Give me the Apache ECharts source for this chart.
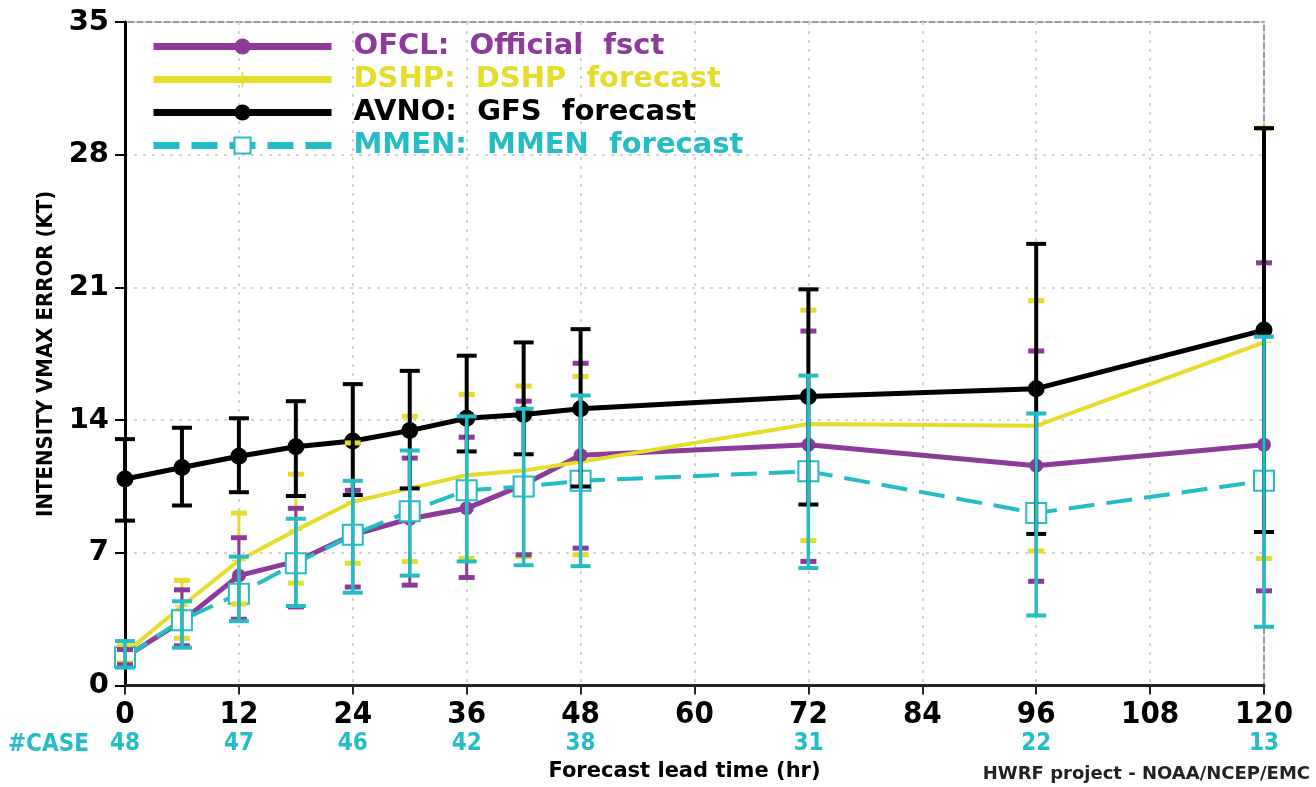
<!DOCTYPE html>
<html>
<head>
<meta charset="utf-8">
<script src="https://cdn.jsdelivr.net/npm/echarts@6/dist/echarts.min.js"></script>
<style>
  html, body { margin: 0; padding: 0; background: #ffffff; }
  #chart { width: 1316px; height: 787px; }
</style>
</head>
<body>
<div id="chart"></div>
<script>
// Forecast lead times (hr)
const hours = [0, 6, 12, 18, 24, 30, 36, 42, 48, 72, 96, 120];

// OFCL: official forecast, mean intensity error and range (kt)
const ofcl   = [1.5, 3.4, 5.8, 6.55, 7.95, 8.8, 9.35, 10.6, 12.15, 12.7, 11.6, 12.7];
const ofclLo = [1.1, 2.1, 3.5, 4.15, 5.2, 5.3, 5.7, 6.9, 7.25, 6.55, 5.5, 5.0];
const ofclHi = [1.9, 5.05, 7.8, 9.35, 10.3, 12.0, 13.1, 15.0, 17.0, 18.7, 17.65, 22.3];

// DSHP forecast
const dshp   = [1.7, 4.2, 6.6, 8.2, 9.7, 10.4, 11.1, 11.35, 11.8, 13.8, 13.7, 18.1];
const dshpLo = [1.2, 2.5, 4.3, 5.4, 6.45, 6.55, 6.7, 6.8, 6.9, 7.65, 7.1, 6.7];
const dshpHi = [2.1, 5.55, 9.1, 11.15, 12.8, 14.2, 15.35, 15.8, 16.3, 19.8, 20.3, 29.4];

// AVNO: GFS forecast
const avno   = [10.9, 11.5, 12.1, 12.6, 12.9, 13.45, 14.1, 14.3, 14.6, 15.25, 15.66, 18.75];
const avnoLo = [8.7, 9.5, 10.2, 10.0, 10.05, 10.4, 12.35, 12.2, 10.5, 9.55, 8.0, 8.1];
const avnoHi = [13.0, 13.6, 14.1, 15.0, 15.9, 16.6, 17.4, 18.1, 18.8, 20.9, 23.3, 29.4];

// MMEN forecast
const mmen   = [1.5, 3.45, 4.85, 6.45, 7.95, 9.2, 10.3, 10.5, 10.8, 11.3, 9.1, 10.8];
const mmenLo = [0.95, 2.0, 3.4, 4.2, 4.9, 5.8, 6.55, 6.35, 6.3, 6.2, 3.7, 3.1];
const mmenHi = [2.35, 4.45, 6.8, 8.8, 10.8, 12.4, 14.2, 14.6, 15.3, 16.35, 14.35, 18.4];

// Number of verifying cases per lead time
const caseHours  = [0, 12, 24, 36, 48, 72, 96, 120];
const caseCounts = [48, 47, 46, 42, 38, 31, 22, 13];

// Axis ticks
const xTicks = [0, 12, 24, 36, 48, 60, 72, 84, 96, 108, 120];
const yTicks = [0, 7, 14, 21, 28, 35];

const C_OFCL = '#8d3a9b';
const C_DSHP = '#e6dc2a';
const C_AVNO = '#000000';
const C_MMEN = '#24bcc5';

const NAME_OFCL = 'OFCL:  Official  fsct';
const NAME_DSHP = 'DSHP:  DSHP  forecast';
const NAME_AVNO = 'AVNO:  GFS  forecast';
const NAME_MMEN = 'MMEN:  MMEN  forecast';

const NARROW = "'Liberation Sans Narrow', 'DejaVu Sans Condensed', 'Arial Narrow', sans-serif";
const WIDE = "'DejaVu Sans', Verdana, sans-serif";

function pairs(vals) { return hours.map((h, i) => [h, vals[i]]); }
function ranges(lo, hi) { return hours.map((h, i) => [h, lo[i], hi[i]]); }

// Vertical range bar with caps at both ends
function rangeSeries(id, lo, hi, color, barW, capW, capH, z) {
  return {
    id: id,
    type: 'custom',
    z: z,
    silent: true,
    data: ranges(lo, hi),
    encode: { x: 0, y: [1, 2] },
    renderItem: function (params, api) {
      const x = api.value(0);
      const a = api.coord([x, api.value(1)]);
      const b = api.coord([x, api.value(2)]);
      return {
        type: 'group',
        children: [
          { type: 'line', shape: { x1: a[0], y1: a[1], x2: b[0], y2: b[1] },
            style: { stroke: color, lineWidth: barW } },
          { type: 'line', shape: { x1: a[0] - capW / 2, y1: a[1], x2: a[0] + capW / 2, y2: a[1] },
            style: { stroke: color, lineWidth: capH } },
          { type: 'line', shape: { x1: b[0] - capW / 2, y1: b[1], x2: b[0] + capW / 2, y2: b[1] },
            style: { stroke: color, lineWidth: capH } }
        ]
      };
    }
  };
}

const PLUS = 'path://M9,0 L11,0 L11,9 L20,9 L20,11 L11,11 L11,20 L9,20 L9,11 L0,11 L0,9 L9,9 Z';

const chart = echarts.init(document.getElementById('chart'), null, { renderer: 'canvas' });

chart.setOption({
  backgroundColor: '#ffffff',
  animation: false,
  grid: {
    left: 125, right: 52, top: 22, bottom: 99,
    show: true, borderColor: '#9a9a9a', borderWidth: 2, backgroundColor: 'transparent'
  },
  legend: {
    orient: 'vertical',
    left: 150,
    top: 32,
    padding: 0,
    itemWidth: 178,
    itemHeight: 20,
    itemGap: 4,
    selectedMode: false,
    lineStyle: { width: 7 },
    textStyle: { fontFamily: WIDE, fontWeight: 'bold', fontSize: 29, lineHeight: 29, padding: [0, 0, 0, 17] },
    data: [
      { name: NAME_OFCL, textStyle: { color: C_OFCL } },
      { name: NAME_DSHP, textStyle: { color: C_DSHP } },
      { name: NAME_AVNO, textStyle: { color: C_AVNO } },
      { name: NAME_MMEN, textStyle: { color: C_MMEN } }
    ]
  },
  xAxis: {
    type: 'value',
    min: 0, max: 120, interval: 12,
    name: 'Forecast lead time (hr)',
    nameLocation: 'middle',
    nameGap: 74,
    nameTextStyle: { fontFamily: WIDE, fontWeight: 'bold', fontSize: 21, color: '#000', padding: [0, 20, 0, 0] },
    axisLine: { show: true, onZero: false, lineStyle: { color: '#222', width: 3 } },
    axisTick: { show: true, inside: false, length: 9, lineStyle: { color: '#222', width: 2 } },
    splitLine: { show: true, lineStyle: { color: '#d4d4d4', width: 2, type: [3, 6] } },
    axisLabel: {
      margin: 15,
      formatter: function (v) {
        const i = caseHours.indexOf(v);
        return '{t|' + v + '}\n{c|' + (i >= 0 ? caseCounts[i] : ' ') + '}';
      },
      rich: {
        t: { fontFamily: NARROW, fontWeight: 'bold', fontSize: 31, color: '#000', lineHeight: 29 },
        c: { fontFamily: NARROW, fontWeight: 'bold', fontSize: 24, color: C_MMEN, lineHeight: 29 }
      }
    }
  },
  yAxis: {
    type: 'value',
    min: 0, max: 35, interval: 7,
    name: 'INTENSITY VMAX ERROR (KT)',
    nameLocation: 'middle',
    nameRotate: 90,
    nameGap: 68,
    nameTextStyle: { fontFamily: NARROW, fontWeight: 'bold', fontSize: 22, color: '#000' },
    axisLine: { show: true, onZero: false, lineStyle: { color: '#000', width: 3 } },
    axisTick: { show: true, inside: false, length: 10, lineStyle: { color: '#000', width: 2 } },
    splitLine: { show: true, lineStyle: { color: '#d4d4d4', width: 2, type: [3, 6] } },
    axisLabel: {
      margin: 16,
      fontFamily: WIDE, fontWeight: 'bold', fontSize: 29, color: '#000',
      formatter: function (v) { return yTicks.indexOf(v) >= 0 ? String(v) : ''; }
    }
  },
  graphic: [
    { type: 'text', left: 8, top: 733,
      style: { text: '#CASE', fontFamily: NARROW, fontWeight: 'bold', fontSize: 24, fill: C_MMEN } },
    { type: 'text', right: 6, top: 765,
      style: { text: 'HWRF project - NOAA/NCEP/EMC', fontFamily: WIDE, fontWeight: 'bold', fontSize: 18, fill: '#222' } }
  ],
  series: [
    {
      name: NAME_OFCL, type: 'line', z: 3, data: pairs(ofcl),
      symbol: 'circle', symbolSize: 14,
      lineStyle: { color: C_OFCL, width: 5 },
      itemStyle: { color: C_OFCL }
    },
    {
      name: NAME_DSHP, type: 'line', z: 3, data: pairs(dshp),
      symbol: PLUS, symbolSize: 14,
      lineStyle: { color: C_DSHP, width: 4 },
      itemStyle: { color: C_DSHP }
    },
    {
      name: NAME_AVNO, type: 'line', z: 3, data: pairs(avno),
      symbol: 'circle', symbolSize: 17,
      lineStyle: { color: C_AVNO, width: 5 },
      itemStyle: { color: C_AVNO }
    },
    {
      name: NAME_MMEN, type: 'line', z: 3, data: pairs(mmen),
      symbol: 'emptyRect', symbolSize: 20,
      lineStyle: { color: C_MMEN, width: 4, type: [26, 12] },
      itemStyle: { color: C_MMEN, borderColor: C_MMEN, borderWidth: 3 }
    },
    rangeSeries('dshp-range', dshpLo, dshpHi, C_DSHP, 3, 16, 5, 4),
    rangeSeries('ofcl-range', ofclLo, ofclHi, C_OFCL, 3, 16, 5, 4),
    rangeSeries('avno-range', avnoLo, avnoHi, C_AVNO, 4, 20, 4, 4),
    rangeSeries('mmen-range', mmenLo, mmenHi, C_MMEN, 3.5, 20, 4, 4)
  ]
});
</script>
</body>
</html>
